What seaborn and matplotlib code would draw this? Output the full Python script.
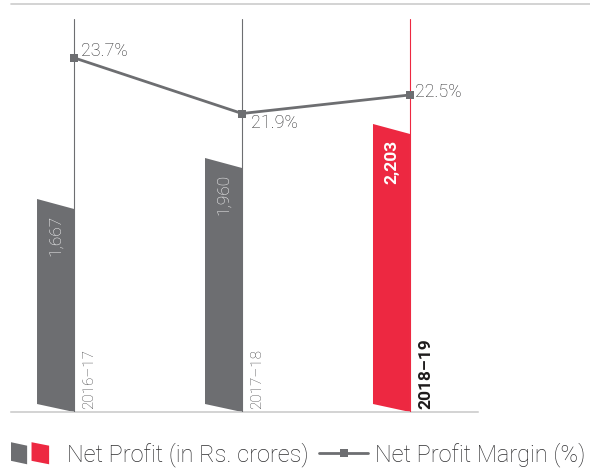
import numpy as np
import pandas as pd
import matplotlib.pyplot as plt
import seaborn as sns
from matplotlib.patches import Polygon
from matplotlib.lines import Line2D

# data
years = ['2016–17', '2017–18', '2018–19']
net_profit = [1667, 1960, 2203]
profit_labels = ['1,667', '1,960', '2,203']
margin = [23.7, 21.9, 22.5]
margin_labels = ['23.7%', '21.9%', '22.5%']

GRAY = '#6d6e71'
RED = '#ed2841'
TEXT = '#2e2e30'
bar_colors = [GRAY, GRAY, RED]

df = pd.DataFrame({'Year': years, 'Net Profit': net_profit})

sns.set_style('white')
plt.rcParams['font.family'] = ['Roboto', 'DejaVu Sans']

W, H = 590, 468
fig = plt.figure(figsize=(W / 100, H / 100), dpi=100)
ax = fig.add_axes([11 / W, 56 / H, 467 / W, 408 / H])

bar_w = 37 / 168
sns.barplot(data=df, x='Year', y='Net Profit', hue='Year', palette=bar_colors,
            width=bar_w, saturation=1, errorbar=None, legend=False, ax=ax)

ybase, ytop = 216, 3132
ax.set_ylim(ybase, ytop)
ax.set_xlim(-0.265, 2.515)

# bars as slanted parallelograms
unit_px = 408 / (ytop - ybase)
top_slant = 10 / unit_px
bot_slant = 8 / unit_px
bars = list(ax.patches)
for i, p in enumerate(bars):
    x, w, h = p.get_x(), p.get_width(), p.get_height()
    poly = Polygon([(x, ybase + bot_slant), (x + w, ybase), (x + w, h), (x, h + top_slant)],
                   closed=True, facecolor=bar_colors[i], edgecolor='none', zorder=2)
    p.set_visible(False)
    ax.add_patch(poly)
    ax.axvline(x + w, ymin=0, ymax=393 / 408, color=bar_colors[i], lw=0.8, zorder=3)
    last = i == len(bars) - 1
    ax.annotate(profit_labels[i], xy=(x + w / 2, h), xytext=(0, -6), textcoords='offset pixels',
                rotation=90, ha='center', va='top', color='white', fontsize=12.5,
                fontweight='bold' if last else 'light', zorder=4)
    ax.annotate(years[i], xy=(x + w, ybase), xytext=(8, 3), textcoords='offset pixels',
                rotation=90, ha='left', va='bottom',
                color='#1e1b1c' if last else '#3f3f41',
                fontsize=12.5 if last else 11,
                fontweight='bold' if last else 'light')

ax.set(xlabel='', ylabel='', xticks=[], yticks=[])
sns.despine(ax=ax, left=True)
ax.spines['bottom'].set_color('#c8c8c8')
ax.spines['bottom'].set_linewidth(1.1)

# margin line on a twin axis
ax2 = ax.twinx()
line_x = np.arange(len(years)) + bar_w / 2
sns.lineplot(x=line_x, y=margin, ax=ax2, color=GRAY, lw=2, marker='s',
             markersize=5.5, markeredgewidth=0)
ax2.set_ylim(12.25, 25.44)
ax2.set_xlim(-0.265, 2.515)
ax2.set(xlabel='', ylabel='', xticks=[], yticks=[])
for s in ax2.spines.values():
    s.set_visible(False)

label_offsets = [(7, 2), (9, -14), (5, -2)]
for i in range(len(margin)):
    ax2.annotate(margin_labels[i], xy=(line_x[i], margin[i]), xytext=label_offsets[i],
                 textcoords='offset pixels', ha='left', va='baseline',
                 color=TEXT, fontsize=13, fontweight='light')

# thin rule across the top
fig.add_artist(Line2D([11 / W, 1], [1 - 4 / H, 1 - 4 / H], transform=fig.transFigure,
                      color='#cccccc', lw=1.2))


class BarPair:
    pass


class BarPairHandler:
    def legend_artist(self, legend, orig_handle, fontsize, handlebox):
        w, h = handlebox.width, handlebox.height
        x0, y0 = -handlebox.xdescent, -handlebox.ydescent
        top, bot, s = y0 + h + 2, y0 - 2, 2.5
        arts = []
        for c, (a, b) in zip([GRAY, RED], [(0.0, 0.33), (0.42, 0.78)]):
            xa, xb = x0 + a * w, x0 + b * w
            poly = Polygon([(xa, bot + s), (xb, bot), (xb, top - s), (xa, top)],
                           closed=True, facecolor=c, edgecolor='none')
            handlebox.add_artist(poly)
            arts.append(poly)
        return arts[-1]


line_handle = Line2D([0], [0], color=GRAY, lw=2, marker='s', markersize=5.5, markeredgewidth=0)
fig.legend(handles=[BarPair(), line_handle],
           labels=['Net Profit (in Rs. crores)', 'Net Profit Margin (%)'],
           handler_map={BarPair: BarPairHandler()},
           loc='lower left', bbox_to_anchor=(11 / W, 0.002), ncol=2, frameon=False,
           prop={'size': 17, 'weight': 'light'}, labelcolor=TEXT,
           handlelength=2.07, handletextpad=0.3, columnspacing=0.45,
           borderpad=0, borderaxespad=0)

fig.savefig('out.png', dpi=100)
